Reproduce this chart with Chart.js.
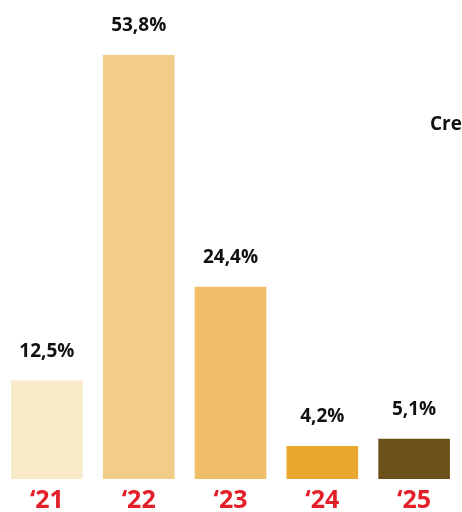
<!DOCTYPE html>
<html>
<head>
<meta charset="utf-8">
<script src="https://cdn.jsdelivr.net/npm/chart.js@4"></script>
<style>
  html, body { margin: 0; padding: 0; background: #fff; }
  #wrap { width: 462px; height: 512px; position: relative; }
</style>
</head>
<body>
<div id="wrap"><canvas id="c"></canvas></div>
<script>
var years = ["\u201821", "\u201822", "\u201823", "\u201824", "\u201825"];
var values = [12.5, 53.8, 24.4, 4.2, 5.1];
var valueLabels = ["12,5%", "53,8%", "24,4%", "4,2%", "5,1%"];
var barColors = ["#F8E9C8", "#F2CD87", "#F0BE69", "#EAA72E", "#6C5019"];
var titleText = "Cre";

var FONT = "'Open Sans', 'Noto Sans', sans-serif";

// value labels above each bar + the clipped title on the right
var labelPlugin = {
    id: 'valueLabels',
    afterDatasetsDraw: function(chart) {
        var c = chart.ctx;
        var meta = chart.getDatasetMeta(0);
        c.save();
        c.font = "bold 19px " + FONT;
        c.fillStyle = "#111";
        c.textAlign = "center";
        c.textBaseline = "middle";
        for (let i = 0; i < meta.data.length; i++) {
            let bar = meta.data[i];
            c.fillText(valueLabels[i], bar.x, bar.y - 29);
        }
        c.textAlign = "left";
        c.fillText(titleText, 430, 125);
        c.restore();
    }
};

var ctx = document.getElementById('c');
var myChart = new Chart(ctx, {
    type: 'bar',
    data: {
        labels: years,
        datasets: [{
            data: values,
            backgroundColor: barColors,
            borderWidth: 0,
            barPercentage: 0.78,
            categoryPercentage: 1
        }]
    },
    options: {
        responsive: true,
        maintainAspectRatio: false,
        animation: false,
        layout: { padding: { top: 6, left: 1, right: 2, bottom: 0 } },
        plugins: {
            legend: { display: false },
            tooltip: { enabled: false }
        },
        scales: {
            x: {
                grid: { display: false, drawTicks: false },
                border: { display: false },
                ticks: {
                    color: "#E3202A",
                    font: { family: FONT, size: 25, weight: 'bold' },
                    padding: 7
                },
                afterFit: function(scale) { scale.height = 33; }
            },
            y: {
                display: false,
                min: 0,
                max: 60
            }
        }
    },
    plugins: [labelPlugin]
});
</script>
</body>
</html>
